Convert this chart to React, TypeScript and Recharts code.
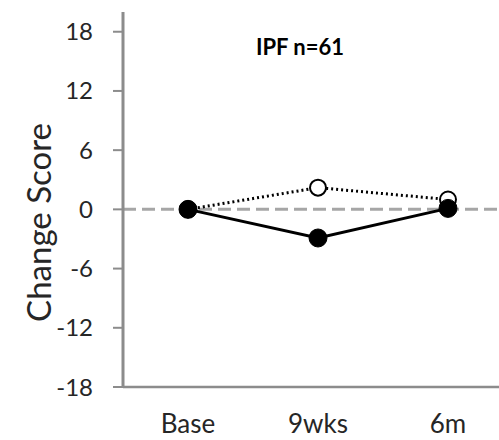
import { LineChart, Line, XAxis, YAxis, ReferenceLine } from "recharts"

const timepoints = ["Base", "9wks", "6m"]
const ipfActual = [0, -2.9, 0.1]
const ipfExpected = [0, 2.2, 1.0]
const yTicks = [-18, -12, -6, 0, 6, 12, 18]

const data = timepoints.map((t, i) => ({
  time: t,
  actual: ipfActual[i],
  expected: ipfExpected[i],
}))

const FONT = "Lato, 'Open Sans', sans-serif"

export default function App() {
  return (
    <div
      style={{
        position: "absolute",
        left: 0,
        top: 0,
        width: 499,
        height: 440,
        overflow: "hidden",
        background: "#fff",
      }}
    >
      <LineChart
        width={520}
        height={440}
        data={data}
        margin={{ top: 12, right: 7, bottom: 0, left: 0 }}
      >
        <XAxis
          dataKey="time"
          height={53}
          padding={{ left: 65, right: 65 }}
          axisLine={{ stroke: "#8c8c8c", strokeWidth: 2.5 }}
          tickLine={false}
          tickSize={0}
          tickMargin={28}
          tick={{ fontSize: 26, fill: "#262626", fontFamily: FONT }}
        />
        <YAxis
          width={123}
          domain={[-18, 20]}
          ticks={yTicks}
          interval={0}
          allowDataOverflow
          axisLine={{ stroke: "#8c8c8c", strokeWidth: 3 }}
          tickLine={{ stroke: "#8c8c8c", strokeWidth: 2 }}
          tickSize={10}
          tickMargin={20}
          tick={{ fontSize: 24, fill: "#262626", fontFamily: FONT }}
          label={({ viewBox }: any) => {
            const cx = 38
            const cy = viewBox ? viewBox.y + viewBox.height / 2 + 23 : 223
            return (
              <text
                x={cx}
                y={cy}
                transform={`rotate(-90, ${cx}, ${cy})`}
                textAnchor="middle"
                dominantBaseline="central"
                fontSize={33}
                fill="#262626"
                fontFamily={FONT}
              >
                Change Score
              </text>
            )
          }}
        />
        <ReferenceLine
          y={0}
          stroke="#a6a6a6"
          strokeWidth={3}
          strokeDasharray="13 6"
        />
        <Line
          dataKey="expected"
          stroke="#000"
          strokeWidth={3}
          strokeDasharray="2 3"
          dot={{ r: 8, fill: "#fff", stroke: "#000", strokeWidth: 2, strokeDasharray: "" }}
          isAnimationActive={false}
        />
        <Line
          dataKey="actual"
          stroke="#000"
          strokeWidth={3}
          dot={{ r: 9, fill: "#000", stroke: "#000", strokeWidth: 1 }}
          isAnimationActive={false}
        />
        <text
          x={300}
          y={46}
          textAnchor="middle"
          dominantBaseline="central"
          fontSize={22}
          fontWeight="bold"
          fill="#000"
          fontFamily={FONT}
        >
          IPF n=61
        </text>
      </LineChart>
    </div>
  )
}
